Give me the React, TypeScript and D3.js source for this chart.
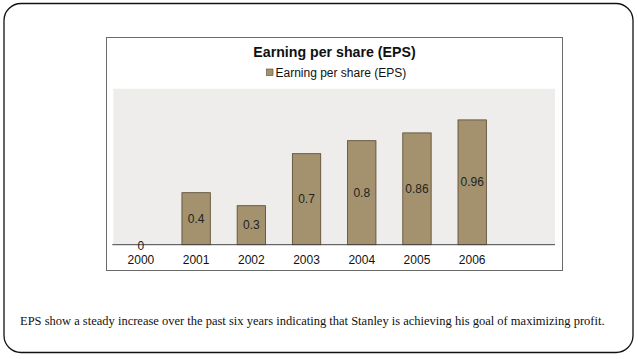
import React from "react";
import * as d3 from "d3";

const categories = ["2000", "2001", "2002", "2003", "2004", "2005", "2006", ""];
const values: (number | null)[] = [0, 0.4, 0.3, 0.7, 0.8, 0.86, 0.96, null];
const valueLabels = ["0", "0.4", "0.3", "0.7", "0.8", "0.86", "0.96", ""];
const chartTitle = "Earning per share (EPS)";
const seriesName = "Earning per share (EPS)";
const caption =
  "EPS show a steady increase over the past six years indicating that Stanley is achieving his goal of maximizing profit.";

const W = 638;
const H = 359;
const plot = { left: 113.3, right: 555, top: 88.7, bottom: 244.7 };
const box = { left: 106.5, right: 562.5, top: 37.5, bottom: 270.5 };
const FILL = "#a4926f";
const STROKE = "#54452c";
const SANS = "'Liberation Sans', Arial, sans-serif";
const SERIF = "'Liberation Serif', 'Times New Roman', serif";

export default function App() {
  const x = d3
    .scaleBand<string>()
    .domain(categories.map((c, i) => String(i)))
    .range([plot.left, plot.right])
    .paddingInner(0.486)
    .paddingOuter(0.243);
  const y = d3.scaleLinear().domain([0, 1.2]).range([plot.bottom, plot.top]);
  const cx = (i: number) => (x(String(i)) as number) + x.bandwidth() / 2;

  return (
    <svg
      width={W}
      height={H}
      style={{ position: "absolute", left: 0, top: 0, background: "#fff" }}
    >
      <rect x={0} y={0} width={W} height={H} fill="#fff" />
      <rect
        x={4}
        y={3.5}
        width={629}
        height={349}
        rx={17}
        ry={17}
        fill="none"
        stroke="#111"
        strokeWidth={1.3}
      />
      <rect
        x={box.left}
        y={box.top}
        width={box.right - box.left}
        height={box.bottom - box.top}
        fill="#fff"
        stroke="#6a6a6a"
        strokeWidth={1}
      />
      <text
        x={(box.left + box.right) / 2}
        y={51.7}
        textAnchor="middle"
        dominantBaseline="central"
        fontFamily={SANS}
        fontWeight="bold"
        fontSize={14.2}
        fill="#111"
      >
        {chartTitle}
      </text>
      <rect x={266.5} y={69} width={6.5} height={6.5} fill={FILL} stroke={STROKE} strokeWidth={0.6} />
      <text
        x={275.5}
        y={72.7}
        dominantBaseline="central"
        fontFamily={SANS}
        fontSize={12}
        fill="#111"
      >
        {seriesName}
      </text>
      <rect
        x={plot.left}
        y={plot.top}
        width={plot.right - plot.left}
        height={plot.bottom - plot.top}
        fill="#efedeb"
      />
      {values.map((v, i) =>
        v === null || v === 0 ? null : (
          <rect
            key={"b" + i}
            x={x(String(i)) as number}
            y={y(v)}
            width={x.bandwidth()}
            height={y(0) - y(v)}
            fill={FILL}
            stroke={STROKE}
            strokeWidth={0.8}
          />
        )
      )}
      <line
        x1={plot.left - 1}
        x2={plot.right}
        y1={y(0)}
        y2={y(0)}
        stroke="#444"
        strokeWidth={1}
      />
      {values.map((v, i) =>
        v === null ? null : (
          <text
            key={"v" + i}
            x={cx(i)}
            y={v === 0 ? y(0) + 1 : (y(v) + y(0)) / 2}
            textAnchor="middle"
            dominantBaseline="central"
            fontFamily={SANS}
            fontSize={12}
            fill="#222"
          >
            {valueLabels[i]}
          </text>
        )
      )}
      {categories.map((c, i) => (
        <text
          key={"t" + i}
          x={cx(i)}
          y={260}
          textAnchor="middle"
          dominantBaseline="central"
          fontFamily={SANS}
          fontSize={12}
          fill="#111"
        >
          {c}
        </text>
      ))}
      <text
        x={20}
        y={321}
        dominantBaseline="central"
        fontFamily={SERIF}
        fontSize={12.5}
        fill="#111"
      >
        {caption}
      </text>
    </svg>
  );
}
